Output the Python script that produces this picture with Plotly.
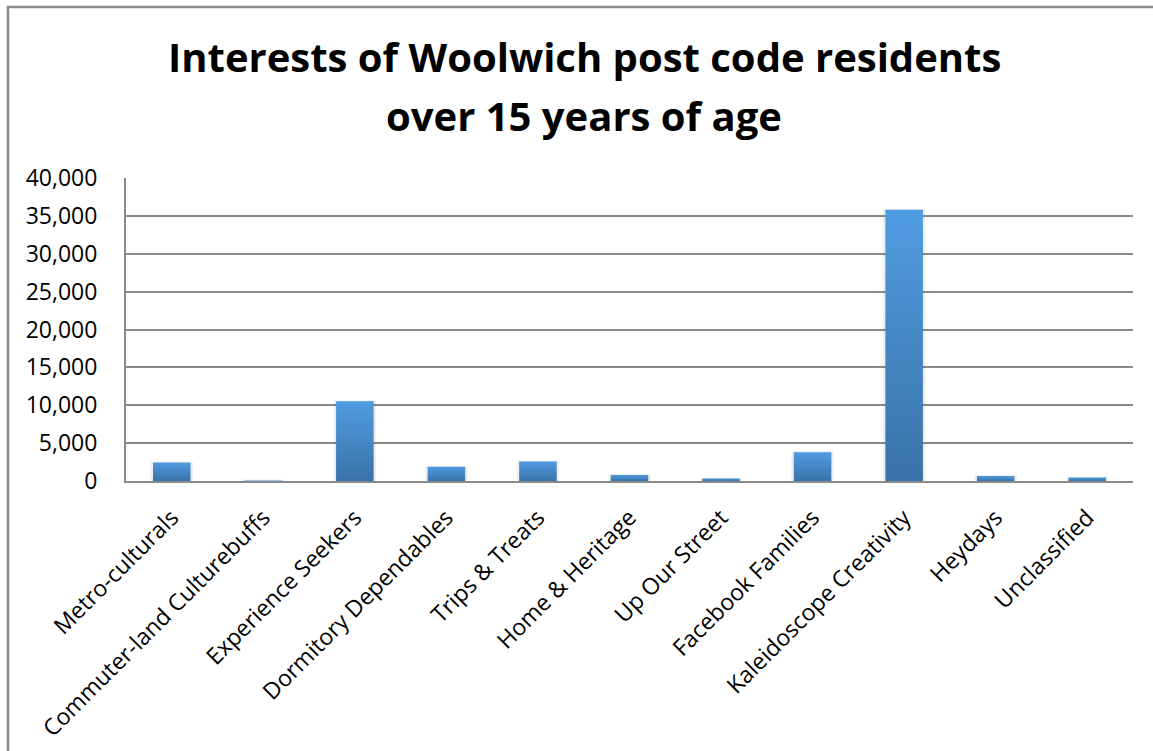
import plotly.graph_objects as go

# Audience segments and resident counts
categories = [
    "Metro-culturals", "Commuter-land Culturebuffs", "Experience Seekers",
    "Dormitory Dependables", "Trips & Treats", "Home & Heritage",
    "Up Our Street", "Facebook Families", "Kaleidoscope Creativity",
    "Heydays", "Unclassified",
]
residents = [2450, 70, 10530, 1870, 2580, 800, 320, 3780, 35800, 670, 450]

y_ticks = [0, 5000, 10000, 15000, 20000, 25000, 30000, 35000, 40000]
y_tick_labels = [f"{v:,}" for v in y_ticks]

BAR_TOP = "#4f9ce1"
BAR_BOTTOM = "#3a72a8"
GRID = "#8a8a8a"
FONT = "Open Sans"
half = 0.205

fig = go.Figure()

# Soft shadow behind each bar
for i, v in enumerate(residents):
    pad = 0.025
    fig.add_trace(go.Scatter(
        x=[i - half - pad, i - half - pad, i + half + pad, i + half + pad, i - half - pad],
        y=[0, v + 120, v + 120, 0, 0],
        mode="lines", line=dict(width=0),
        fill="toself", fillcolor="rgba(0,0,0,0.07)",
        hoverinfo="skip", showlegend=False,
    ))

for i, v in enumerate(residents):
    fig.add_trace(go.Scatter(
        x=[i - half, i - half, i + half, i + half, i - half],
        y=[0, v, v, 0, 0],
        mode="lines",
        line=dict(width=0),
        fill="toself",
        fillgradient=dict(type="vertical", start=0, stop=v,
                          colorscale=[[0, BAR_BOTTOM], [1, BAR_TOP]]),
        name=categories[i],
        hoverinfo="text",
        text=f"{categories[i]}: {v:,}",
        showlegend=False,
    ))

fig.update_xaxes(
    range=[-0.5, len(categories) - 0.5],
    tickmode="array",
    tickvals=list(range(len(categories))),
    ticktext=categories,
    tickangle=-45,
    tickfont=dict(family=FONT, size=23, color="black"),
    showgrid=False, zeroline=False,
    showline=True, linecolor=GRID, linewidth=2,
    ticks="", ticklabelstandoff=12,
    automargin=False,
)
fig.update_yaxes(
    range=[0, 40000],
    tickmode="array",
    tickvals=y_ticks,
    ticktext=y_tick_labels,
    tickfont=dict(family=FONT, size=23, color="black"),
    showgrid=True, gridcolor=GRID, gridwidth=1.5,
    zeroline=False,
    showline=True, linecolor=GRID, linewidth=2,
    ticks="", ticklabelstandoff=22,
    automargin=False,
)

# Outer chart frame
fig.add_shape(type="rect", xref="paper", yref="paper",
              x0=-0.1172, x1=1.05, y0=-0.93, y1=1.564,
              line=dict(color="#8a8a8a", width=2.5), layer="below")

title_lines = ["Interests of Woolwich post code residents", "over 15 years of age"]
for text, ypos in zip(title_lines, [1.40, 1.205]):
    fig.add_annotation(text=f"<b>{text}</b>", xref="paper", yref="paper",
                       x=0.455, y=ypos, xanchor="center", yanchor="middle",
                       showarrow=False,
                       font=dict(family=FONT, size=40, color="black"))

fig.update_layout(
    width=1153, height=751,
    margin=dict(l=126, r=20, t=178, b=270),
    paper_bgcolor="white", plot_bgcolor="white",
)

fig.write_html("out.html")
